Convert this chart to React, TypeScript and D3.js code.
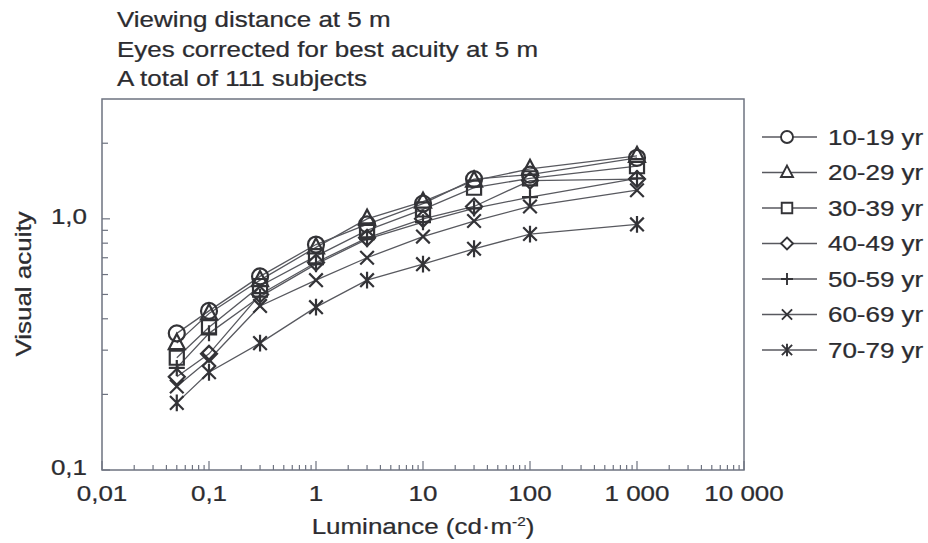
import React from "react";
import * as d3 from "d3";

const luminance = [0.05, 0.1, 0.3, 1, 3, 10, 30, 100, 1000];
const groups = ["10-19 yr", "20-29 yr", "30-39 yr", "40-49 yr", "50-59 yr", "60-69 yr", "70-79 yr"];
const acuity1019 = [0.35, 0.43, 0.59, 0.79, 0.95, 1.15, 1.44, 1.5, 1.75];
const acuity2029 = [0.32, 0.42, 0.57, 0.77, 1.0, 1.17, 1.42, 1.58, 1.78];
const acuity3039 = [0.28, 0.37, 0.54, 0.71, 0.9, 1.09, 1.33, 1.45, 1.62];
const acuity4049 = [0.235, 0.29, 0.5, 0.67, 0.84, 1.0, 1.12, 1.42, 1.44];
const acuity5059 = [0.255, 0.35, 0.49, 0.66, 0.83, 0.97, 1.1, 1.22, 1.45];
const acuity6069 = [0.215, 0.275, 0.45, 0.57, 0.7, 0.85, 0.98, 1.12, 1.3];
const acuity7079 = [0.185, 0.245, 0.32, 0.445, 0.57, 0.66, 0.76, 0.87, 0.95];
const seriesValues = [acuity1019, acuity2029, acuity3039, acuity4049, acuity5059, acuity6069, acuity7079];
const markerKinds = ["circle", "triangle", "square", "diamond", "plus", "x", "asterisk"];
const xTickValues = [0.01, 0.1, 1, 10, 100, 1000, 10000];
const xTickLabels = ["0,01", "0,1", "1", "10", "100", "1 000", "10 000"];
const yTickValues = [0.1, 1];
const yTickLabels = ["0,1", "1,0"];
const titleLines = ["Viewing distance at 5 m", "Eyes corrected for best acuity at 5 m", "A total of 111 subjects"];

const FONT = "'Liberation Sans', Arial, Helvetica, sans-serif";
const INK = "#2c2c30";
const SX = 1.18;
const FS = 22;

function markerPath(kind: string, h: number): string {
  switch (kind) {
    case "circle":
      return `M${-h},0A${h},${h} 0 1,0 ${h},0A${h},${h} 0 1,0 ${-h},0Z`;
    case "triangle":
      return `M0,${-h * 1.15}L${h},${h * 0.75}L${-h},${h * 0.75}Z`;
    case "square": {
      const s = h * 0.88;
      return `M${-s},${-s}L${s},${-s}L${s},${s}L${-s},${s}Z`;
    }
    case "diamond":
      return `M0,${-h}L${h},0L0,${h}L${-h},0Z`;
    case "plus":
      return `M0,${-h}L0,${h}M${-h},0L${h},0`;
    case "x": {
      const s = h * 0.85;
      return `M${-s},${-s}L${s},${s}M${-s},${s}L${s},${-s}`;
    }
    case "asterisk": {
      const s = h * 0.85;
      return `M${-s},${-s}L${s},${s}M${-s},${s}L${s},${-s}M0,${-h * 1.05}L0,${h * 1.05}`;
    }
  }
  return "";
}

function T({ x, y, anchor = "start", size = FS, rotate = 0, children }: any) {
  return (
    <text
      transform={`translate(${x},${y}) rotate(${rotate}) scale(${SX},1)`}
      textAnchor={anchor}
      fontFamily={FONT}
      fontSize={size}
      fill={INK}
      stroke={INK}
      strokeWidth={0.25}
    >
      {children}
    </text>
  );
}

export default function App() {
  const left = 102, right = 744, top = 99, bottom = 470;
  const x = d3.scaleLog().domain([0.01, 10000]).range([left, right]);
  const y = d3.scaleLog().domain([0.1, 3]).range([bottom, top]);
  const line = d3
    .line<number>()
    .x((_, i) => x(luminance[i]))
    .y((v) => y(v));

  const xMinor: number[] = [];
  for (let e = -2; e < 4; e++) for (let k = 2; k <= 9; k++) xMinor.push(k * Math.pow(10, e));
  const yMinor: number[] = [];
  for (let k = 2; k <= 9; k++) yMinor.push(k / 10);
  yMinor.push(2);

  const frameColor = "#6e7380";
  const legendX = 762, legendY0 = 137, legendDy = 35.5;

  return (
    <svg
      width={928}
      height={543}
      style={{ position: "absolute", left: 0, top: 0, background: "#fff" }}
    >
      {titleLines.map((t, i) => (
        <T key={t} x={117} y={27 + i * 29.5}>{t}</T>
      ))}

      {/* frame */}
      <rect x={left} y={top} width={right - left} height={bottom - top} fill="none" stroke={frameColor} strokeWidth={1.5} />

      {/* x ticks */}
      {xMinor.map((v) => (
        <line key={"xm" + v} x1={x(v)} x2={x(v)} y1={bottom} y2={bottom - 5} stroke={frameColor} strokeWidth={1.2} />
      ))}
      {xTickValues.map((v, i) => (
        <g key={"xt" + v}>
          <line x1={x(v)} x2={x(v)} y1={bottom} y2={bottom - 9} stroke={frameColor} strokeWidth={1.2} />
          <T x={x(v)} y={501} anchor="middle">{xTickLabels[i]}</T>
        </g>
      ))}

      {/* y ticks */}
      {yMinor.map((v) => (
        <line key={"ym" + v} x1={left} x2={left + 6} y1={y(v)} y2={y(v)} stroke={frameColor} strokeWidth={1.2} />
      ))}
      {yTickValues.map((v, i) => (
        <g key={"yt" + v}>
          <line x1={left} x2={left + 8} y1={y(v)} y2={y(v)} stroke={frameColor} strokeWidth={1.2} />
          <T x={87} y={y(v) + 5} anchor="end">{yTickLabels[i]}</T>
        </g>
      ))}

      {/* axis titles */}
      <text
        transform={`translate(423,534) scale(${SX},1)`}
        textAnchor="middle"
        fontFamily={FONT}
        fontSize={FS}
        fill={INK}
        stroke={INK}
        strokeWidth={0.25}
      >
        Luminance (cd·m<tspan dy={-8} fontSize={13}>-2</tspan><tspan dy={8}>)</tspan>
      </text>
      <T x={31} y={284} anchor="middle" rotate={-90}>Visual acuity</T>

      {/* series lines */}
      {seriesValues.map((vals, si) => (
        <path key={"l" + si} d={line(vals) || ""} fill="none" stroke="#58595f" strokeWidth={1.3} />
      ))}
      {/* markers */}
      {seriesValues.map((vals, si) =>
        vals.map((v, i) => (
          <path
            key={"m" + si + "-" + i}
            d={markerPath(markerKinds[si], 8)}
            transform={`translate(${x(luminance[i])},${y(v)})`}
            fill="none"
            stroke="#333337"
            strokeWidth={2.2}
          />
        ))
      )}

      {/* legend */}
      {groups.map((g, i) => {
        const cy = legendY0 + i * legendDy;
        return (
          <g key={g}>
            <line x1={legendX} x2={legendX + 55} y1={cy} y2={cy} stroke="#58595f" strokeWidth={1.3} />
            <path
              d={markerPath(markerKinds[i], 6)}
              transform={`translate(${legendX + 25},${cy})`}
              fill="#fff"
              stroke="#333337"
              strokeWidth={1.9}
            />
            <T x={828} y={cy + 7.5}>{g}</T>
          </g>
        );
      })}
    </svg>
  );
}
